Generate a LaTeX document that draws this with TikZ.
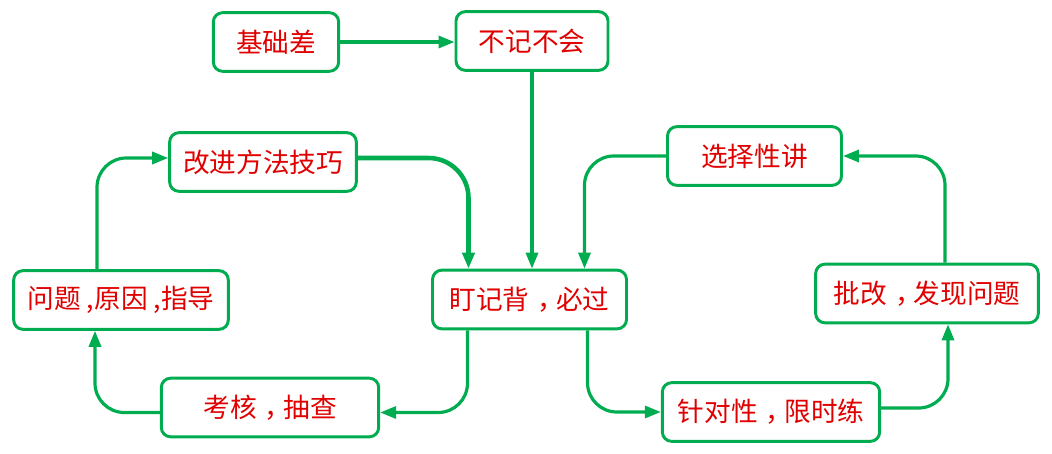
\documentclass[tikz,border=0pt]{standalone}
\usepackage{fontspec}
\newfontfamily\cjk{Noto Sans CJK SC}
\newcommand\midcomma{\kern.3em，\kern-.3em}
\usepackage{tikz}
\usetikzlibrary{arrows.meta}
\definecolor{boxgreen}{HTML}{00AC50}
\definecolor{txtred}{HTML}{E00000}
\tikzset{
  >={Triangle[length=12pt,width=9pt]},
  block/.style={draw=boxgreen,line width=2.2pt,rounded corners=7pt,fill=white,
    text=txtred,font=\cjk\fontsize{20}{24}\selectfont,minimum height=44pt,inner sep=0pt},
  arrow/.style={->,line width=2.4pt,draw=boxgreen,rounded corners=22pt},
}
\begin{document}
\begin{tikzpicture}[x=0.75pt,y=-0.75pt]
			\useasboundingbox (0,0) rectangle (1052,453);
			\node[block,minimum width=94pt] (base) at (276,42) {基础差};
			\node[block,minimum width=114pt] (forget) at (532,41) {不记不会};
			\node[block,minimum width=140pt] (improve) at (263,162) {改进方法技巧};
			\node[block,minimum width=130.5pt] (select) at (754.5,156) {选择性讲};
			\node[block,minimum width=161pt] (cause) at (121,300) {问题 ,原因 ,指导};
			\node[block,minimum width=145.5pt] (recite) at (529.5,299.5) {盯记背\midcomma 必过};
			\node[block,minimum width=167pt] (mark) at (927,293.5) {批改\midcomma 发现问题};
			\node[block,minimum width=163pt] (check) at (270,407.5) {考核\midcomma 抽查};
			\node[block,minimum width=163pt] (drill) at (771,412) {针对性\midcomma 限时练};
			\draw[arrow] (base.east) -- (base.east -| forget.west);
			\draw[arrow] (forget.south) -- (forget.south |- recite.north);
			\draw[arrow,line width=3.4pt,rounded corners=30pt] ([shift={(0,-4)}]improve.east) -| ([shift={(-61,0)}]recite.north);
			\draw[arrow] (select.west) -| ([shift={(55,0)}]recite.north);
			\draw[arrow] ([shift={(-62,0)}]recite.south) |- ([shift={(0,5)}]check.east);
			\draw[arrow] ([shift={(0,5)}]check.west) -| ([shift={(-26,0)}]cause.south);
			\draw[arrow] ([shift={(-24,0)}]cause.north) |- ([shift={(0,-4)}]improve.west);
			\draw[arrow] ([shift={(58,0)}]recite.south) |- (drill.west);
			\draw[arrow] ([shift={(0,-4)}]drill.east) -| ([shift={(21,0)}]mark.south);
			\draw[arrow] ([shift={(18,0)}]mark.north) |- (select.east);
		\end{tikzpicture}
\end{document}
